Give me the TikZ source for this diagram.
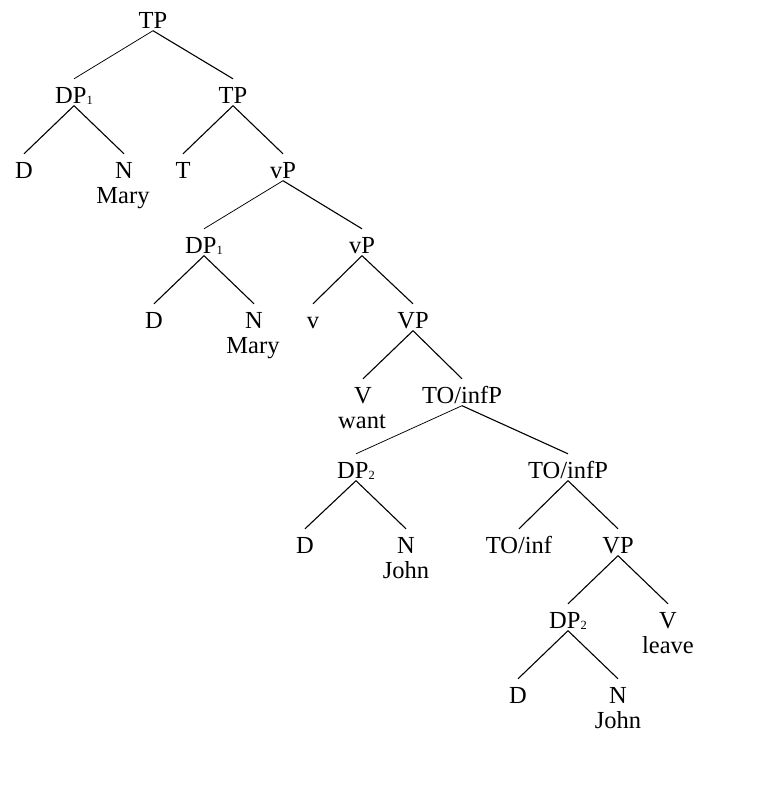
\documentclass[tikz,border=0pt]{standalone}
\usepackage{fontspec}
\setmainfont{Liberation Serif}
\begin{document}
\begin{tikzpicture}[x=1pt,y=-1pt,
  tn/.style={inner sep=0pt, text height=24pt, text depth=2.5pt, anchor=base, font=\fontsize{24.5}{26}\selectfont},
  wd/.style={inner sep=0pt, anchor=base, font=\fontsize{24.5}{26}\selectfont},
  br/.style={line width=1.1pt},
  thin/.style={line width=0.75pt}]
\newcommand{\sbx}[1]{\raisebox{-1.5pt}{\fontsize{12.5}{12}\selectfont #1}}
\useasboundingbox (0,0) rectangle (764,795);
% nodes
\node[tn] (tp0) at (153,28) {TP};
\node[tn] (dp1a) at (74,103) {DP\sbx{1}};
\node[tn] (tp1) at (233,103) {TP};
\node[tn] (da) at (24,178) {D};
\node[tn] (na) at (124,178) {N};
\node[wd] (marya) at (123,203) {Mary};
\node[tn] (t) at (183,178) {T};
\node[tn] (vp0) at (283,178) {vP};
\node[tn] (dp1b) at (204,253) {DP\sbx{1}};
\node[tn] (vp1) at (362,253) {vP};
\node[tn] (db) at (154,328) {D};
\node[tn] (nb) at (254,328) {N};
\node[wd] (maryb) at (253,353) {Mary};
\node[tn] (v) at (313,328) {v};
\node[tn] (VP0) at (413,328) {VP};
\node[tn] (V0) at (363,403) {V};
\node[wd] (want) at (362,428) {want};
\node[tn] (ti0) at (462,403) {TO/infP};
\node[tn] (dp2a) at (356,478) {DP\sbx{2}};
\node[tn] (ti1) at (568,478) {TO/infP};
\node[tn] (dc) at (305,553) {D};
\node[tn] (nc) at (406,553) {N};
\node[wd] (johnc) at (406,578) {John};
\node[tn] (toinf) at (519,553) {TO/inf};
\node[tn] (VP1) at (618,553) {VP};
\node[tn] (dp2b) at (568,628) {DP\sbx{2}};
\node[tn] (V1) at (668,628) {V};
\node[wd] (leave) at (668,653) {leave};
\node[tn] (dd) at (518,703) {D};
\node[tn] (nd) at (618,703) {N};
\node[wd] (johnd) at (618,728) {John};
% branches
\draw[thin] (tp0.south) -- (dp1a.north);
\draw[br] (tp0.south) -- (tp1.north);
\draw[br] (dp1a.south) -- (da.north);
\draw[br] (dp1a.south) -- (na.north);
\draw[br] (tp1.south) -- (t.north);
\draw[br] (tp1.south) -- (vp0.north);
\draw[thin] (vp0.south) -- (dp1b.north);
\draw[br] (vp0.south) -- (vp1.north);
\draw[br] (dp1b.south) -- (db.north);
\draw[br] (dp1b.south) -- (nb.north);
\draw[br] (vp1.south) -- (v.north);
\draw[br] (vp1.south) -- (VP0.north);
\draw[br] (VP0.south) -- (V0.north);
\draw[br] (VP0.south) -- (ti0.north);
\draw[thin] (ti0.south) -- (dp2a.north);
\draw[br] (ti0.south) -- (ti1.north);
\draw[br] (dp2a.south) -- (dc.north);
\draw[br] (dp2a.south) -- (nc.north);
\draw[br] (ti1.south) -- (toinf.north);
\draw[br] (ti1.south) -- (VP1.north);
\draw[br] (VP1.south) -- (dp2b.north);
\draw[br] (VP1.south) -- (V1.north);
\draw[br] (dp2b.south) -- (dd.north);
\draw[br] (dp2b.south) -- (nd.north);
\end{tikzpicture}
\end{document}
